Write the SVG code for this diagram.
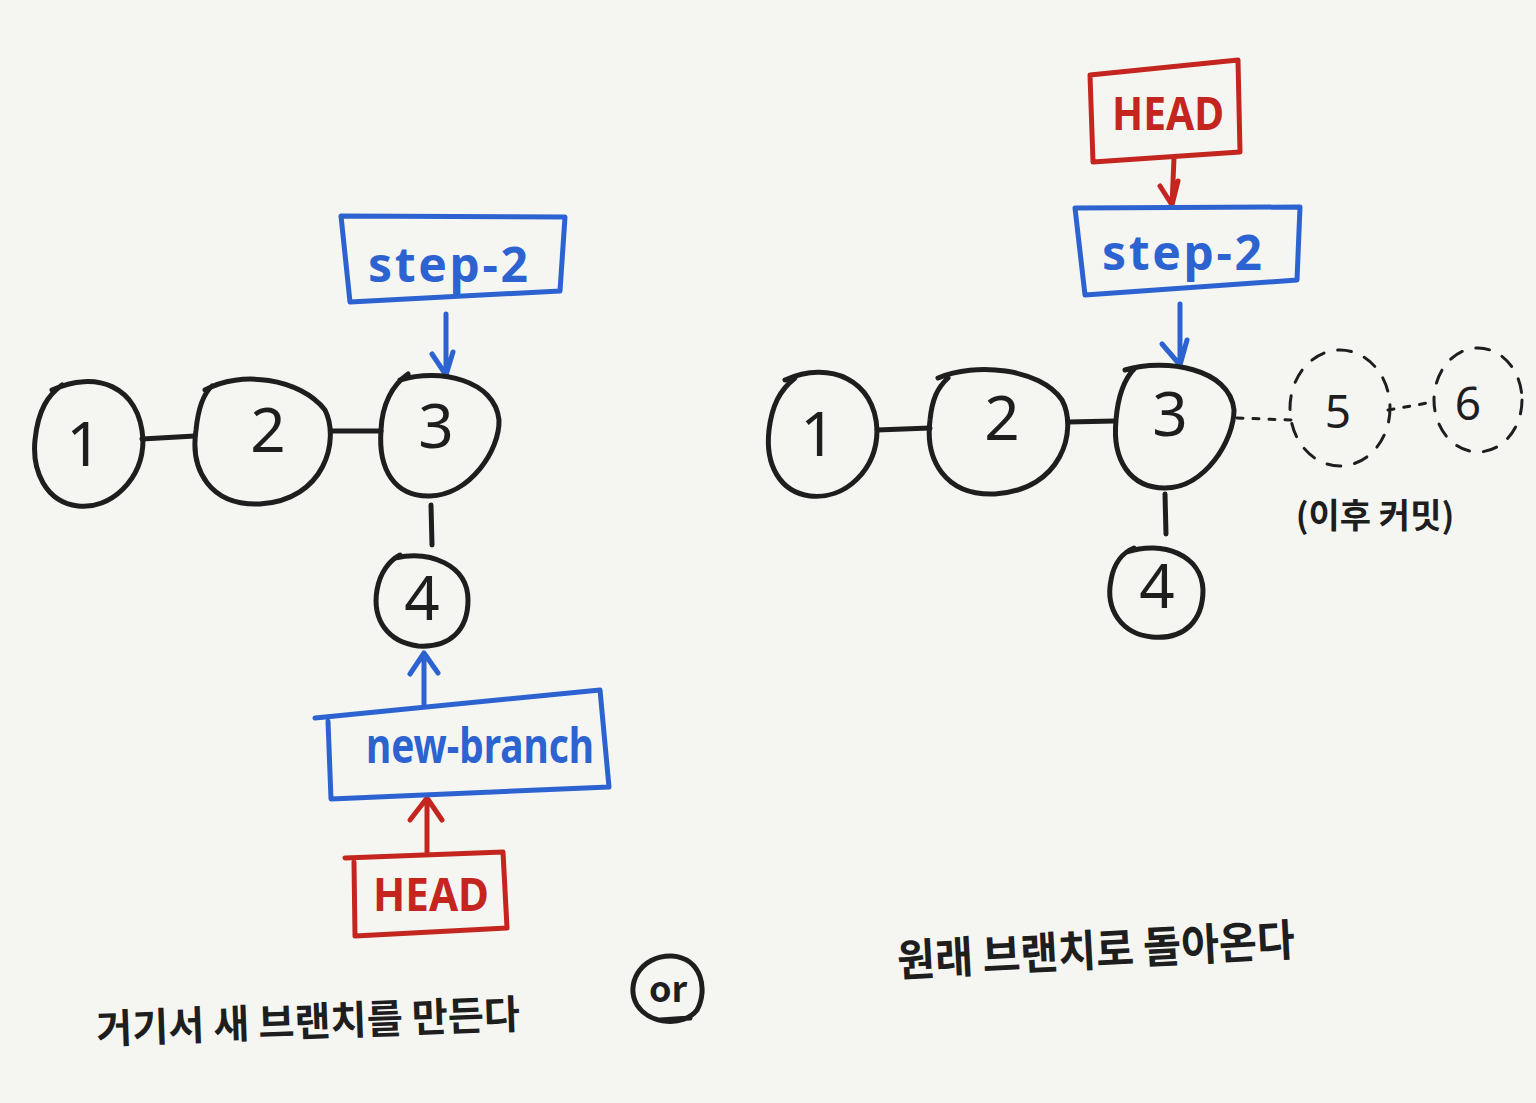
<svg xmlns="http://www.w3.org/2000/svg" width="1536" height="1103" viewBox="0 0 1536 1103">
<style>
.bg{fill:#f5f6f2}
.n{fill:none;stroke:#1e1e1e;stroke-width:5;stroke-linecap:round;stroke-linejoin:round}
.d{fill:none;stroke:#1e1e1e;stroke-width:3;stroke-linecap:round;stroke-dasharray:14 14}
.dt{fill:none;stroke:#1e1e1e;stroke-width:3;stroke-linecap:round;stroke-dasharray:6 10}
.b{fill:none;stroke:#2c63d1;stroke-width:5;stroke-linecap:round;stroke-linejoin:round}
.r{fill:none;stroke:#c4261f;stroke-width:5;stroke-linecap:round;stroke-linejoin:round}
.num{font-family:"Noto Sans","DejaVu Sans",sans-serif;font-size:62px;fill:#1e1e1e;text-anchor:middle}
.dnum{font-family:"Noto Sans","DejaVu Sans",sans-serif;font-size:46px;fill:#1e1e1e;text-anchor:middle}
.bt{font-family:"Noto Sans","DejaVu Sans",sans-serif;font-size:48px;fill:#2c63d1;text-anchor:middle;font-weight:bold}
.rt{font-family:"Noto Sans","DejaVu Sans",sans-serif;font-size:46px;fill:#c4261f;text-anchor:middle;font-weight:bold}
.kr{font-family:"Noto Sans CJK KR","Noto Sans",sans-serif;fill:#1e1e1e;text-anchor:middle;font-weight:bold}
</style>
<rect class="bg" x="0" y="0" width="1536" height="1103"/>

<g id="connectors">
  <path class="n" d="M142,439 L195,436"/>
  <path class="n" d="M333,431 L381,431"/>
  <path class="n" d="M431,505 L432,545"/>
  <path class="b" d="M446,314 L446,374 M432,354 L446,375 L453,352"/>
  <path class="b" d="M424,704 L424,653 M410,674 L424,653 L438,673"/>
  <path class="r" d="M427,852 L427,798 M410,820 L427,798 L442,820"/>
  <path class="n" d="M877,430 L930,428"/>
  <path class="n" d="M1068,422 L1115,421"/>
  <path class="n" d="M1165,494 L1166,534"/>
  <path class="b" d="M1180,304 L1180,364 M1162,344 L1180,365 L1187,340"/>
  <path class="r" d="M1174,158 L1172,205 M1160,186 L1172,205 L1178,181"/>
  <path class="dt" d="M1237,418 L1292,420"/>
  <path class="dt" d="M1388,410 L1433,402"/>
</g>

<g id="left-node-1"><path class="n" d="M52,390 C95,370 140,385 143,440 C143,480 110,510 78,506 C45,502 32,470 35,440 C38,410 48,395 62,385"/><text class="num" x="84" y="466">1</text></g>
<g id="left-node-2"><path class="n" d="M205,390 C240,370 300,378 325,410 C340,440 325,500 260,504 C210,506 190,470 196,430 C198,410 202,395 212,386"/><text class="num" x="268" y="452">2</text></g>
<g id="left-node-3"><path class="n" d="M400,380 C440,368 495,380 499,420 C500,450 470,495 430,496 C395,497 378,470 381,430 C382,405 392,385 408,374"/><text class="num" x="436" y="448">3</text></g>
<g id="left-node-4"><path class="n" d="M395,558 C430,550 468,565 468,600 C468,630 450,648 418,646 C388,642 372,620 377,590 C380,572 390,560 400,555"/><text class="num" x="422" y="620">4</text></g>

<g id="left-step-2"><path class="b" d="M341,216 L565,217 L560,291 L350,302 Z"/><text class="bt" x="448" y="282" textLength="160">step-2</text></g>
<g id="left-new-branch"><path class="b" d="M315,718 L600,690 L609,787 L331,799 L328,721"/><text class="bt" x="480" y="763" font-size="44" textLength="228" lengthAdjust="spacingAndGlyphs">new-branch</text></g>
<g id="left-head"><path class="r" d="M345,858 L503,852 L507,928 L355,936 L354,862"/><text class="rt" x="431" y="911" textLength="116" lengthAdjust="spacingAndGlyphs">HEAD</text></g>

<g id="left-caption"><text class="kr" x="308" y="1036" font-size="40" textLength="424" lengthAdjust="spacingAndGlyphs" transform="rotate(-2 308 1020)">거기서 새 브랜치를 만든다</text></g>
<g id="or"><path class="n" d="M672,956 C702,958 708,990 697,1010 C684,1027 650,1025 637,1005 C625,985 640,955 672,956 M660,1020 L690,1018"/><text class="kr" x="668" y="1002" font-size="36">or</text></g>

<g id="right-node-1"><path class="n" d="M785,380 C830,360 875,380 877,430 C877,470 845,500 810,496 C780,492 765,465 769,430 C772,405 780,390 795,378"/><text class="num" x="818" y="456">1</text></g>
<g id="right-node-2"><path class="n" d="M938,378 C975,362 1040,368 1062,400 C1078,430 1062,490 995,494 C945,496 925,460 930,420 C932,400 937,388 948,378"/><text class="num" x="1002" y="440">2</text></g>
<g id="right-node-3"><path class="n" d="M1125,370 C1165,358 1230,368 1234,410 C1234,440 1205,488 1165,488 C1130,488 1112,460 1116,420 C1118,395 1125,378 1135,368"/><text class="num" x="1170" y="436">3</text></g>
<g id="right-node-4"><path class="n" d="M1127,552 C1162,540 1202,555 1203,590 C1203,620 1185,640 1152,637 C1122,634 1105,610 1111,580 C1114,562 1124,552 1134,548"/><text class="num" x="1157" y="608">4</text></g>
<g id="right-node-5"><ellipse class="d" cx="1340" cy="408" rx="50" ry="58"/><text class="dnum" x="1338" y="428">5</text></g>
<g id="right-node-6"><ellipse class="d" cx="1478" cy="400" rx="44" ry="52"/><text class="dnum" x="1468" y="420">6</text></g>

<g id="right-step-2"><path class="b" d="M1075,208 L1300,207 L1297,280 L1085,295 Z"/><text class="bt" x="1182" y="270" textLength="160">step-2</text></g>
<g id="right-head"><path class="r" d="M1090,75 L1238,60 L1240,152 L1093,162 Z"/><text class="rt" x="1168" y="130" textLength="112" lengthAdjust="spacingAndGlyphs">HEAD</text></g>

<g id="right-note"><text class="kr" x="1375" y="528" font-size="34" font-weight="normal">(이후 커밋)</text></g>
<g id="right-caption"><text class="kr" x="1096" y="966" font-size="44" textLength="398" lengthAdjust="spacingAndGlyphs" transform="rotate(-3 1096 950)">원래 브랜치로 돌아온다</text></g>
</svg>
